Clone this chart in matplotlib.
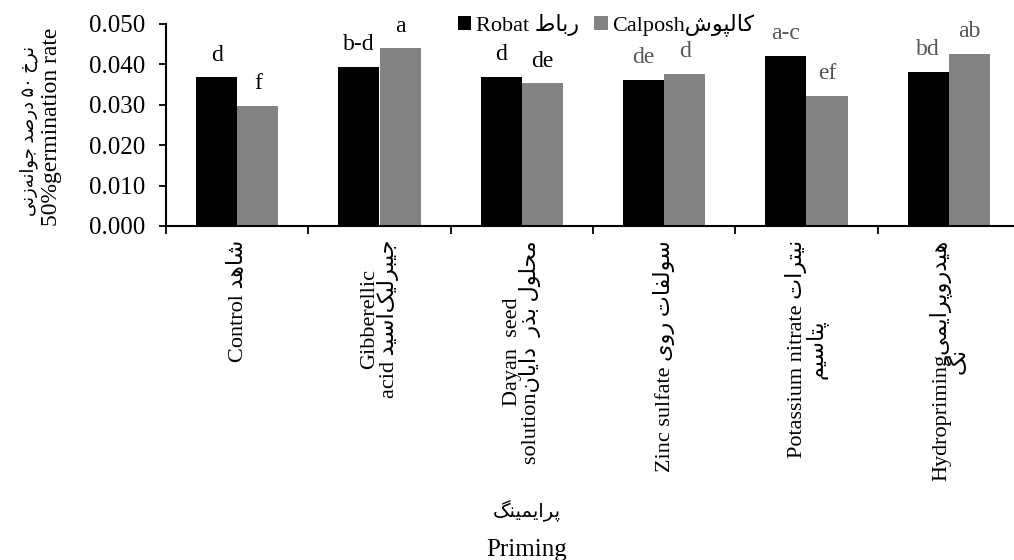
import re
import numpy as np
import matplotlib
matplotlib.use('Agg')
import matplotlib.pyplot as plt
from matplotlib.ticker import FormatStrFormatter

# Persian letters -> presentation forms (isolated, final, initial, medial)
# letters with only two forms never join to the next letter
FORMS = {
    'ا': ('\uFE8D', '\uFE8E'),
    'ب': ('\uFE8F', '\uFE90', '\uFE91', '\uFE92'),
    'پ': ('\uFB56', '\uFB57', '\uFB58', '\uFB59'),
    'ت': ('\uFE95', '\uFE96', '\uFE97', '\uFE98'),
    'ج': ('\uFE9D', '\uFE9E', '\uFE9F', '\uFEA0'),
    'ح': ('\uFEA1', '\uFEA2', '\uFEA3', '\uFEA4'),
    'خ': ('\uFEA5', '\uFEA6', '\uFEA7', '\uFEA8'),
    'د': ('\uFEA9', '\uFEAA'),
    'ذ': ('\uFEAB', '\uFEAC'),
    'ر': ('\uFEAD', '\uFEAE'),
    'ز': ('\uFEAF', '\uFEB0'),
    'س': ('\uFEB1', '\uFEB2', '\uFEB3', '\uFEB4'),
    'ش': ('\uFEB5', '\uFEB6', '\uFEB7', '\uFEB8'),
    'ص': ('\uFEB9', '\uFEBA', '\uFEBB', '\uFEBC'),
    'ط': ('\uFEC1', '\uFEC2', '\uFEC3', '\uFEC4'),
    'ف': ('\uFED1', '\uFED2', '\uFED3', '\uFED4'),
    'ک': ('\uFB8E', '\uFB8F', '\uFB90', '\uFB91'),
    'گ': ('\uFB92', '\uFB93', '\uFB94', '\uFB95'),
    'ل': ('\uFEDD', '\uFEDE', '\uFEDF', '\uFEE0'),
    'م': ('\uFEE1', '\uFEE2', '\uFEE3', '\uFEE4'),
    'ن': ('\uFEE5', '\uFEE6', '\uFEE7', '\uFEE8'),
    'ه': ('\uFEE9', '\uFEEA', '\uFEEB', '\uFEEC'),
    'و': ('\uFEED', '\uFEEE'),
    'ی': ('\uFBFC', '\uFBFD', '\uFBFE', '\uFBFF'),
}


def fa(text):
    """shape persian text and put it in visual (left to right) order"""
    out = []
    for i, ch in enumerate(text):
        if ch == '\u200c':
            continue
        f = FORMS.get(ch)
        if f is None:
            out.append(ch)
            continue
        prev = text[i - 1] if i > 0 else ''
        nxt = text[i + 1] if i + 1 < len(text) else ''
        join_prev = prev in FORMS and len(FORMS[prev]) == 4
        join_next = len(f) == 4 and nxt in FORMS
        if join_prev and join_next:
            out.append(f[3])
        elif join_prev:
            out.append(f[1])
        elif join_next:
            out.append(f[2])
        else:
            out.append(f[0])
    s = ''.join(reversed(out))
    # numbers stay left to right
    return re.sub('[۰-۹]+', lambda m: m.group()[::-1], s)


# %%
# Data
treatments = [
    'Control ' + fa('شاهد'),
    'Gibberellic\nacid ' + fa('جیبرلیک\u200cاسید'),
    'Dayan  seed\nsolution' + fa('محلول بذر  دایان'),
    'Zinc sulfate ' + fa('سولفات روی'),
    'Potassium nitrate ' + fa('نیترات') + '\n' + fa('پتاسیم'),
    'Hydropriming' + fa('هیدروپرایمی') + '\n' + fa('نگ'),
]
robat = [0.0368, 0.0394, 0.0370, 0.0361, 0.0421, 0.0382]
calposh = [0.0297, 0.0440, 0.0353, 0.0376, 0.0323, 0.0426]
robat_letters = ['d', 'b-d', 'd', 'de', 'a-c', 'bd']
calposh_letters = ['f', 'a', 'de', 'd', 'ef', 'ab']

plt.rcParams['font.family'] = ['Liberation Serif', 'DejaVu Sans']

# %%
fig = plt.figure(figsize=(10.14, 5.6), dpi=100)
ax = fig.add_axes([166 / 1014, 1 - 226 / 560, (1020 - 166) / 1014, (226 - 24) / 560])

x = np.arange(len(treatments))
w = 0.289
ax.bar(x - w / 2, robat, w, color='black', label='Robat ' + fa('رباط'))
ax.bar(x + w / 2, calposh, w, color='#838383', label='Calposh' + fa('کالپوش'))

# letters of mean comparison
for i in range(len(x)):
    c = 'black' if i < 3 else '#555555'
    ax.annotate(robat_letters[i], (x[i] - w / 2, robat[i]), xytext=(0, 12),
                textcoords='offset points', ha='center', va='baseline', fontsize=17, color=c)
    ax.annotate(calposh_letters[i], (x[i] + w / 2, calposh[i]), xytext=(0, 12),
                textcoords='offset points', ha='center', va='baseline', fontsize=17, color=c)

ax.set_xlim(-0.5, 5.5)
ax.set_ylim(0, 0.05)
ax.set_yticks(np.arange(0, 0.0501, 0.01))
ax.yaxis.set_major_formatter(FormatStrFormatter('%.3f'))

ax.set_xticks(x)
ax.set_xticklabels(treatments, rotation=90, va='top', ha='center',
                   multialignment='center', linespacing=0.85, fontsize=16)
ax.set_xticks(np.arange(-0.5, 6, 1), minor=True)
ax.tick_params(axis='x', which='major', length=0, pad=10)
ax.tick_params(axis='x', which='minor', length=6, width=1.3, direction='out')
ax.tick_params(axis='y', length=5, width=1.3, direction='out', pad=10, labelsize=18)

for s in ['top', 'right']:
    ax.spines[s].set_visible(False)
for s in ['left', 'bottom']:
    ax.spines[s].set_linewidth(1.5)

ax.legend(loc='center left', bbox_to_anchor=(458 / 1014, 1 - 25 / 560), bbox_transform=fig.transFigure,
          ncol=2, frameon=False, handlelength=0.6, handleheight=0.6, handletextpad=0.2,
          columnspacing=0.7, fontsize=16, borderpad=0, borderaxespad=0)

# axis titles
fig.text(29 / 1014, 1 - 131 / 560, fa('نرخ ۵۰ درصد جوانه\u200cزنی'), rotation=90,
         ha='center', va='center', fontsize=13)
fig.text(52 / 1014, 1 - 127 / 560, '50%germination rate', rotation=90,
         ha='center', va='center', fontsize=17)
fig.text(527 / 1014, 1 - 511 / 560, fa('پرایمینگ'), ha='center', va='center', fontsize=14)
fig.text(527 / 1014, 1 - 550 / 560, 'Priming', ha='center', va='center', fontsize=18)

fig.savefig('out.png', dpi=100)
